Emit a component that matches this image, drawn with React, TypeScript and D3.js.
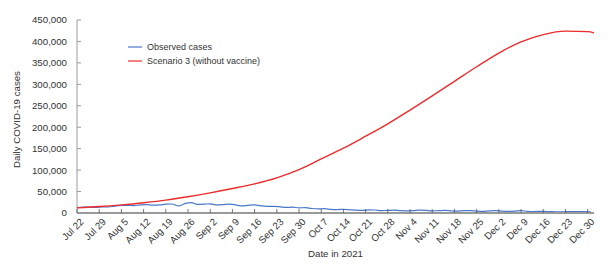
import * as d3 from "d3";

// days since Jul 22, 2021
const redDays = [0, 7, 14, 21, 28, 35, 42, 49, 56, 63, 70, 77, 84, 91, 98, 105, 112, 119, 126, 133, 140, 147, 154, 161, 163];
const redValues = [
  12000, 15000, 19000, 24000, 30000, 38000, 47000, 57000, 68000, 82000, 101000, 126000, 151000, 179000,
  208000, 240000, 273000, 307000, 341000, 373000, 399000, 416000, 424000, 423000, 420000,
];

const obsValues = [
  12.5, 14, 13.5, 13, 14.5, 14, 16, 17.5, 18, 17, 19, 19.5, 18.5, 19, 20.5, 21, 16.5, 22, 24, 20, 20.5,
  21.5, 19, 19.5, 20.5, 19, 16.5, 18, 19, 16.5, 15.5, 15.5, 14.5, 13, 13.5, 12, 12.5, 10.5, 9.5, 10, 8.5,
  8, 8.5, 7.5, 6.5, 6, 7.5, 7, 5.5, 6, 6.5, 5.5, 5, 5.5, 6.5, 6, 5, 5.5, 6, 5, 4.5, 5.5, 5.5, 4.5, 4, 5,
  5.5, 4.5, 4, 4.5, 5.5, 4, 3.5, 4, 3.5, 3, 2.5, 3, 3.5, 3, 3, 2.5,
].map((v) => v * 1000);
const obsDays = obsValues.map((_, i) => i * 2);

const xTickLabels = [
  "Jul 22", "Jul 29", "Aug 5", "Aug 12", "Aug 19", "Aug 26", "Sep 2", "Sep 9", "Sep 16", "Sep 23",
  "Sep 30", "Oct 7", "Oct 14", "Oct 21", "Oct 28", "Nov 4", "Nov 11", "Nov 18", "Nov 25", "Dec 2",
  "Dec 9", "Dec 16", "Dec 23", "Dec 30",
];
const yTicks = [0, 50000, 100000, 150000, 200000, 250000, 300000, 350000, 400000, 450000];

const legendItems = [
  { label: "Observed cases", color: "#4a78c8" },
  { label: "Scenario 3 (without vaccine)", color: "#ee2b2b" },
];

const W = 612;
const H = 271;
const left = 77;
const right = 594;
const top = 20;
const bottom = 213;
const font = "'Liberation Sans', Arial, sans-serif";

export default function App() {
  const x = d3.scaleLinear().domain([0, 163]).range([left, right]);
  const y = d3.scaleLinear().domain([0, 450000]).range([bottom, top]);

  const line = d3
    .line<[number, number]>()
    .x((d) => x(d[0]))
    .y((d) => y(d[1]))
    .curve(d3.curveMonotoneX);

  const redPath = line(redDays.map((d, i) => [d, redValues[i]]));
  const obsPath = line(obsDays.map((d, i) => [d, obsValues[i]]));
  const fmt = d3.format(",");

  return (
    <svg width={W} height={H} style={{ position: "absolute", left: 0, top: 0, background: "#fff" }} fontFamily={font}>
      {/* y axis */}
      <line x1={left} x2={left} y1={top} y2={bottom} stroke="#9a9a9a" strokeWidth={1} />
      {yTicks.map((t) => (
        <g key={t}>
          <line x1={left} x2={left + 4} y1={y(t)} y2={y(t)} stroke="#9a9a9a" />
          <text x={67} y={y(t)} dy="0.35em" textAnchor="end" fontSize={9.7} fill="#333">
            {fmt(t)}
          </text>
        </g>
      ))}
      <text
        transform={`translate(20,${(top + bottom) / 2 + 3}) rotate(-90)`}
        textAnchor="middle"
        fontSize={9.7}
        fill="#333"
      >
        Daily COVID-19 cases
      </text>

      {/* lines */}
      <path d={obsPath ?? ""} fill="none" stroke={legendItems[0].color} strokeWidth={1.2} />
      <path d={redPath ?? ""} fill="none" stroke={legendItems[1].color} strokeWidth={1.4} />

      {/* x axis */}
      <line x1={left} x2={right} y1={bottom} y2={bottom} stroke="#9a9a9a" strokeWidth={2} />
      {xTickLabels.map((lab, i) => {
        const tx = x(i * 7);
        return (
          <g key={lab}>
            <line x1={tx} x2={tx} y1={bottom} y2={bottom - 4} stroke="#555" strokeWidth={0.8} />
            <text
              transform={`translate(${tx + 5},${bottom + 7}) rotate(-45)`}
              textAnchor="end"
              dy="0.35em"
              fontSize={9.7}
              fill="#333"
            >
              {lab}
            </text>
          </g>
        );
      })}
      <text x={(left + right) / 2} y={257} textAnchor="middle" fontSize={9.7} fill="#333">
        Date in 2021
      </text>

      {/* legend */}
      {legendItems.map((it, i) => (
        <g key={it.label} transform={`translate(128,${47 + i * 14})`}>
          <line x1={0} x2={14} y1={0} y2={0} stroke={it.color} strokeWidth={1.2} />
          <text x={19} y={0} dy="0.35em" fontSize={9} fill="#333">
            {it.label}
          </text>
        </g>
      ))}
    </svg>
  );
}
